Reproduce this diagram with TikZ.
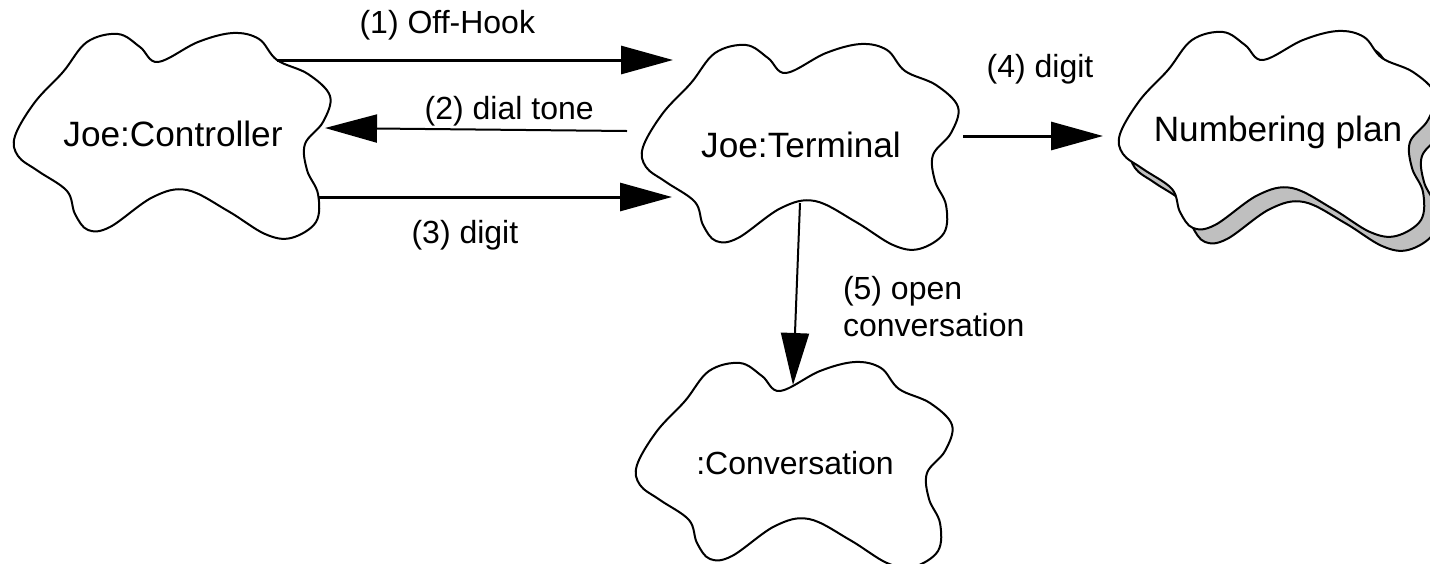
\documentclass[tikz,border=0pt]{standalone}
\usepackage{fontspec}
\setmainfont{Liberation Sans}
\usetikzlibrary{arrows.meta, calc}

\tikzset{
  blob/.pic={
    \draw[line width=1pt, fill=#1] plot[smooth cycle, tension=0.6] coordinates {
      (-158,2) (-138,-32) (-110,-62) (-86,-92) (-55,-100) (-33,-87)
      (-15,-72) (25,-92) (60,-101) (86,-95) (104,-74) (135,-60) (157,-38)
      (150,-12) (132,10) (134,36) (145,60) (143,88) (118,104) (92,100)
      (55,77) (14,56) (-20,63) (-63,93) (-85,96) (-98,80) (-106,57)
      (-135,37) (-155,22)};
  }
}

\begin{document}
\begin{tikzpicture}[x=0.5pt, y=-0.5pt, >={Triangle[length=26pt, width=14pt]},
    obj/.style={font=\fontsize{17.6}{21}\selectfont, inner sep=0pt},
    msg/.style={font=\fontsize{16}{18.5}\selectfont, inner sep=0pt},
    thickarr/.style={->, line width=1.5pt},
    thinarr/.style={->, line width=1pt}]
        \useasboundingbox (0,0) rectangle (1430,563);
        \clip (0,0) rectangle (1430,563);
        \coordinate (ctrlC) at (173,134);
        \coordinate (termC) at (801,145);
        \coordinate (numC) at (1278,132);
        \coordinate (convC) at (795,463);
        % clouds
        \pic at (ctrlC) {blob=white};
        \pic at (termC) {blob=white};
        \pic at (convC) {blob=white};
        \pic at ([shift={(12,14)}]numC) {blob=black!25};
        \pic at (numC) {blob=white};
        \node[obj] (ctrl) at (ctrlC) {Joe:Controller};
        \node[obj] (term) at (termC) {Joe:Terminal};
        \node[obj] (num) at (numC) {Numbering plan};
        \node[obj, font=\fontsize{16}{19}\selectfont] (conv) at (convC) {:Conversation};
        % messages
        \draw[thickarr] ([shift={(104,-74)}]ctrl.center)
            -- node[msg, pos=0.43, above=9pt] (l1) {(1) Off-Hook}
            ([shift={(-128,-85)}]term.center);
        \draw[thinarr] ([shift={(-174,-14)}]term.center)
            -- node[msg, pos=0.39, above=1.5pt] (l2) {(2) dial tone}
            ([shift={(152,-6)}]ctrl.center);
        \draw[thickarr] ([shift={(145,63)}]ctrl.center)
            -- node[msg, pos=0.415, below=11pt] (l3) {(3) digit}
            ([shift={(-129,52)}]term.center);
        \draw[thickarr] ([shift={(162,-9)}]term.center)
            -- node[msg, pos=0.55, above=25pt] (l4) {(4) digit}
            ([shift={(-175,4)}]num.center);
        \draw[thinarr] ([shift={(-1,58)}]term.center)
            -- node[msg, pos=0.57, right=23pt, align=left] (l5) {(5) open\\conversation}
            ([shift={(-2,-78)}]conv.center);
    \end{tikzpicture}
\end{document}
